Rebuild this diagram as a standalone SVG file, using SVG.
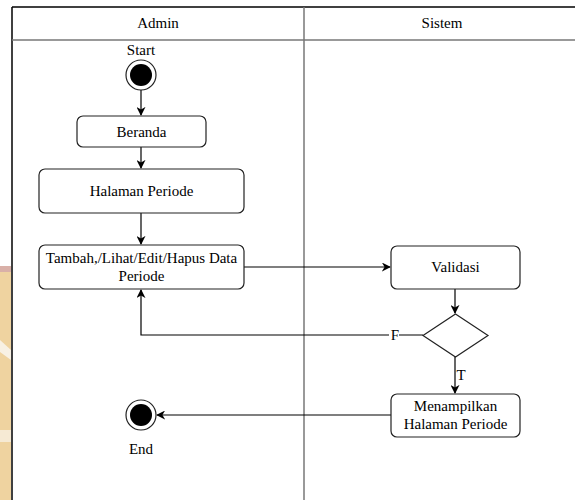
<svg xmlns="http://www.w3.org/2000/svg" width="575" height="500" viewBox="0 0 575 500">
<defs>
<style>
text{font-family:"Liberation Serif","Times New Roman",serif;font-size:15px;fill:#000;text-anchor:middle}
.box{fill:#fff;stroke:#222;stroke-width:1.2}
.edge{fill:none;stroke:#000;stroke-width:1.2}
.lane{stroke:#777;stroke-width:1.5;fill:none}
</style>
<marker id="arr" viewBox="0 0 10 10" refX="9" refY="5" markerWidth="9" markerHeight="9" markerUnits="userSpaceOnUse" orient="auto">
<path d="M0,0 L10,5 L0,10 L3,5 Z" fill="#000"/>
</marker>
</defs>
<rect x="0" y="0" width="575" height="500" fill="#fff"/>
<g id="watermark">
<rect x="0" y="266" width="11" height="234" fill="#efd3a0"/>
<rect x="0" y="266" width="11" height="6" fill="#d9b0a8"/>
<path d="M0,340 L11,350 L11,360 L0,352 Z" fill="#f8f1e4"/>
<rect x="0" y="430" width="11" height="12" fill="#f6ead4"/>
</g>
<g id="swimlanes">
<line x1="12" y1="7" x2="575" y2="7" stroke="#000" stroke-width="1.5"/>
<line x1="12" y1="7" x2="12" y2="500" stroke="#000" stroke-width="1.5"/>
<line x1="12" y1="40" x2="575" y2="40" class="lane"/>
<line x1="304" y1="7" x2="304" y2="500" class="lane"/>
<text x="158" y="28">Admin</text>
<text x="442" y="28">Sistem</text>
</g>
<g id="connectors">
<line x1="141" y1="90" x2="141" y2="115" class="edge" marker-end="url(#arr)"/>
<line x1="141" y1="147" x2="141" y2="168" class="edge" marker-end="url(#arr)"/>
<line x1="141" y1="213" x2="141" y2="244" class="edge" marker-end="url(#arr)"/>
<line x1="244" y1="267" x2="390" y2="267" class="edge" marker-end="url(#arr)"/>
<line x1="455" y1="289" x2="455" y2="313" class="edge" marker-end="url(#arr)"/>
<polyline points="423,335 141,335 141,290" class="edge" marker-end="url(#arr)"/>
<line x1="455" y1="357" x2="455" y2="393" class="edge" marker-end="url(#arr)"/>
<line x1="391" y1="415" x2="157" y2="415" class="edge" marker-end="url(#arr)"/>
<rect x="389" y="327" width="10" height="16" fill="#fff"/>
<text x="395" y="340">F</text>
<rect x="456" y="367" width="10" height="16" fill="#fff"/>
<text x="461" y="380">T</text>
</g>
<g id="start">
<text x="141" y="55">Start</text>
<circle cx="141" cy="75" r="15" fill="#fff" stroke="#222" stroke-width="1.2"/>
<circle cx="141" cy="75" r="11" fill="#000"/>
</g>
<g id="beranda">
<rect x="77" y="116" width="129" height="31" rx="6" class="box"/>
<text x="141.5" y="137">Beranda</text>
</g>
<g id="halaman-periode">
<rect x="39" y="169" width="205" height="44" rx="6" class="box"/>
<text x="141.5" y="196">Halaman Periode</text>
</g>
<g id="tambah">
<rect x="39" y="245" width="205" height="44" rx="6" class="box"/>
<text x="141.5" y="263">Tambah,/Lihat/Edit/Hapus Data</text>
<text x="141.5" y="281">Periode</text>
</g>
<g id="validasi">
<rect x="391" y="246" width="129" height="43" rx="6" class="box"/>
<text x="455.5" y="272">Validasi</text>
</g>
<g id="decision">
<polygon points="455.5,314 488,335.5 455.5,357 423,335.5" class="box"/>
</g>
<g id="menampilkan">
<rect x="391" y="394" width="129" height="43" rx="6" class="box"/>
<text x="455.5" y="411">Menampilkan</text>
<text x="455.5" y="429">Halaman Periode</text>
</g>
<g id="end">
<circle cx="141" cy="415" r="15" fill="#fff" stroke="#222" stroke-width="1.2"/>
<circle cx="141" cy="415" r="11" fill="#000"/>
<text x="141" y="454">End</text>
</g>
</svg>
